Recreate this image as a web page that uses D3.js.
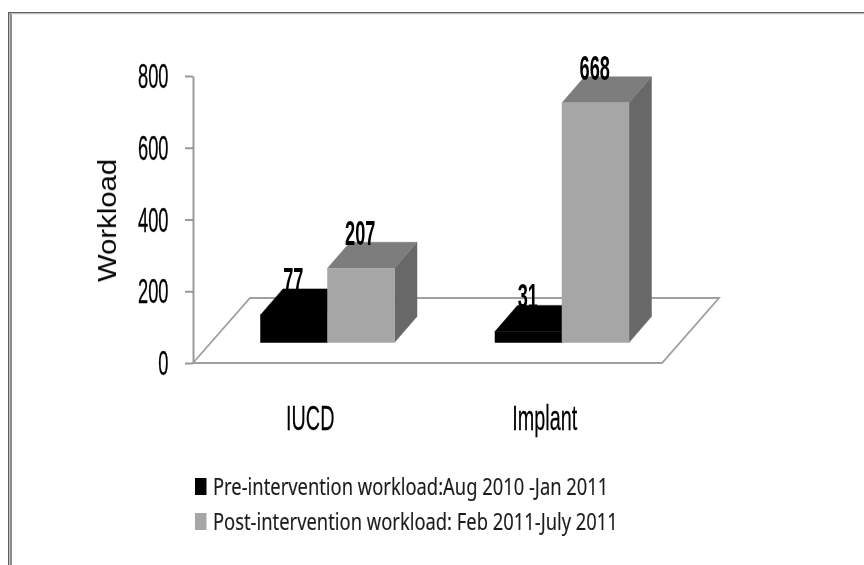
<!DOCTYPE html>
<html><head><meta charset="utf-8">
<script src="https://cdn.jsdelivr.net/npm/d3@7"></script>
<style>html,body{margin:0;padding:0;background:#fff}svg{display:block}</style>
</head><body><svg id="c" width="864" height="565"></svg>
<script>
const categories = ["IUCD", "Implant"];
const seriesNames = ["Pre-intervention workload:Aug 2010 -Jan 2011", "Post-intervention workload: Feb 2011-July 2011"];
const preValues = [77, 31];
const postValues = [207, 668];
const yTicks = [0, 200, 400, 600, 800];

const svg = d3.select("#c");
const defs = svg.append("defs");
defs.append("filter").attr("id","soft").append("feGaussianBlur").attr("stdDeviation",0.45);

// frame (crisp)
svg.append("path").attr("d","M8.7 565V12.7H864").attr("fill","none").attr("stroke","#5f5f5f").attr("stroke-width",1.4);
svg.append("path").attr("d","M11 565V14").attr("fill","none").attr("stroke","#8c8c8c").attr("stroke-width",2);
svg.append("path").attr("d","M11 13.8H864").attr("fill","none").attr("stroke","#c8c8c8").attr("stroke-width",1);

const root = svg.append("g").attr("filter","url(#soft)");

const y = d3.scaleLinear().domain([0,800]).range([363,76]);
const x = d3.scaleBand().domain(categories).range([193,662]);
const sx = d3.scaleBand().domain([0,1]).range([0,134]);
const depthX = 22.5, depthY = 26, floorX = 57, floorY = 65, baseLift = 20.5, groupOffset = 67.5;

// floor
const x0 = 193, x1 = 662;
root.append("path").attr("d",d3.line()([[x0,y(0)],[x0+floorX,y(0)-floorY],[x1+floorX,y(0)-floorY],[x1,y(0)],[x0,y(0)]]))
  .attr("fill","#fff").attr("stroke","#a0a0a0").attr("stroke-width",1.8);

// y axis
const axis = root.append("g").attr("transform","translate(193,0)")
  .call(d3.axisLeft(y).tickValues(yTicks).tickSize(8).tickSizeOuter(0).tickFormat(()=>""));
axis.selectAll("path,line").attr("stroke","#969696").attr("stroke-width",1.9);

function squeezed(parent,px,py,str,size,sxv,anchor,opts={}){
  return parent.append("text").attr("transform",`translate(${px},${py}) scale(${sxv},1)`)
    .attr("text-anchor",anchor).attr("font-family",opts.family||"Liberation Sans")
    .attr("font-size",size).attr("font-weight",opts.weight||"normal").attr("fill",opts.fill||"#000")
    .attr("stroke",opts.fill||"#000").attr("stroke-width",opts.thick||0).text(str);
}
yTicks.forEach(t=>squeezed(root,168.5,y(t)+12,t,34.5,0.53,"end",{thick:0.35}));

root.append("text").attr("transform","translate(116,220.5) rotate(-90) scale(1.17,1)").attr("text-anchor","middle")
  .attr("font-family","Liberation Sans").attr("font-size",25).attr("fill","#000").text("Workload");

// bars
const base = y(0) - baseLift;
const h = v => y(0) - y(v);
const colors = [
  {front:"#000",top:"#000",side:"#000",edge:"#000"},
  {front:"#a6a6a6",top:"#7d7d7d",side:"#686868",edge:"#a6a6a6"}
];
categories.forEach((c,ci)=>{
  [preValues,postValues].forEach((vals,si)=>{
    const v = vals[ci], col = colors[si];
    const l = x(c)+groupOffset+sx(si), r = l+sx.bandwidth(), t = base-h(v);
    const g = root.append("g");
    g.append("path").attr("d",d3.line()([[r,base],[r+depthX,base-depthY],[r+depthX,t-depthY],[r,t]])).attr("fill",col.side).attr("stroke",col.side).attr("stroke-width",0.5);
    g.append("path").attr("d",d3.line()([[l,t],[l+depthX,t-depthY],[r+depthX,t-depthY],[r,t]])).attr("fill",col.top).attr("stroke",col.top).attr("stroke-width",0.5);
    g.append("rect").attr("x",l).attr("y",t).attr("width",r-l).attr("height",h(v)).attr("fill",col.front).attr("stroke",col.edge).attr("stroke-width",0.5);
  });
});
// value labels
categories.forEach((c,ci)=>{
  [preValues,postValues].forEach((vals,si)=>{
    const v = vals[ci];
    const cx = x(c)+groupOffset+sx(si)+sx.bandwidth()/2+depthX/2-12;
    squeezed(root,cx,base-h(v)-depthY+3,v,35,0.52,"middle",{weight:"bold"});
  });
});

// category labels
categories.forEach(c=>squeezed(root,x(c)+x.bandwidth()/2,430,c,35,0.565,"middle",{thick:0.25}));

// legend
[0,1].forEach(i=>{
  root.append("rect").attr("x",195).attr("y",478+i*35).attr("width",11.5).attr("height",17).attr("fill",i?"#a6a6a6":"#000");
  squeezed(root,213,495+i*35,seriesNames[i],24,0.765,"start",{family:"Noto Sans",fill:"#1c1c1c",thick:0.15});
});
</script></body></html>
